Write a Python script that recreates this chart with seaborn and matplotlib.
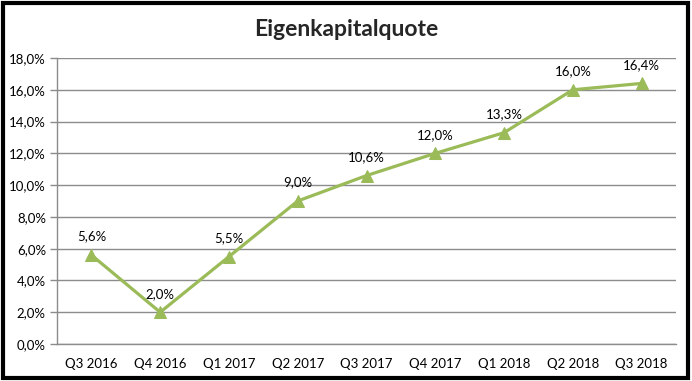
import matplotlib
matplotlib.use("Agg")
import matplotlib.pyplot as plt
import seaborn as sns
import pandas as pd
import numpy as np
from matplotlib.patches import Rectangle
from matplotlib.ticker import FixedLocator, FuncFormatter

quarters = ["Q3 2016", "Q4 2016", "Q1 2017", "Q2 2017", "Q3 2017",
            "Q4 2017", "Q1 2018", "Q2 2018", "Q3 2018"]
values = [5.6, 2.0, 5.5, 9.0, 10.6, 12.0, 13.3, 16.0, 16.4]
y_ticks = [0, 2, 4, 6, 8, 10, 12, 14, 16, 18]
title = "Eigenkapitalquote"

sns.set_theme(style="white")
plt.rcParams['font.family'] = ['Lato', 'DejaVu Sans']

df = pd.DataFrame({"Quartal": quarters, "Wert": values, "x": np.arange(len(quarters))})

fig = plt.figure(figsize=(6.92, 3.81), dpi=100)
ax = fig.add_axes([57/692, 37/381, (676-57)/692, (344-58)/381])

color = "#9BBB59"
sns.lineplot(data=df, x="x", y="Wert", ax=ax, color=color, linewidth=2.3,
             marker="^", markersize=8, markeredgecolor=color, markerfacecolor=color)

ax.set_xlim(-0.5, len(quarters) - 0.5)
ax.set_ylim(0, 18)
ax.yaxis.set_major_locator(FixedLocator(y_ticks))
ax.yaxis.set_major_formatter(FuncFormatter(lambda v, p: f"{v:.1f}%".replace(".", ",")))
ax.grid(axis="y", color="#8c8c8c", linewidth=1)
ax.set_axisbelow(True)

ax.set_xticks(df["x"])
ax.set_xticklabels(quarters)
ax.set_xticks(np.arange(-0.5, len(quarters), 1.0), minor=True)
ax.tick_params(axis="x", which="major", length=0, pad=10, labelsize=9.5, colors="black")
ax.tick_params(axis="x", which="minor", length=5, width=1, color="#8c8c8c", direction="out")
ax.tick_params(axis="y", which="major", length=5, width=1, color="#8c8c8c", direction="out",
               labelsize=9.5, colors="black", pad=3, left=True)
ax.set_xlabel("")
ax.set_ylabel("")

for s in ["top", "right"]:
    ax.spines[s].set_visible(False)
for s in ["left", "bottom"]:
    ax.spines[s].set_color("#8c8c8c")
    ax.spines[s].set_linewidth(1)

for xi, v in zip(df["x"], values):
    ax.annotate(f"{v:.1f}%".replace(".", ","), (xi, v), xytext=(0, 9),
                textcoords="offset points", ha="center", va="bottom", fontsize=9.5, color="black")

fig.text(0.5, 1 - 30/381, title, ha="center", va="center", fontsize=16.5, fontweight="bold")

fig.patches.append(Rectangle((3/692, 3/381), 685/692, 375/381, transform=fig.transFigure,
                             fill=False, edgecolor="black", linewidth=3))

fig.savefig("out.png", dpi=100)
